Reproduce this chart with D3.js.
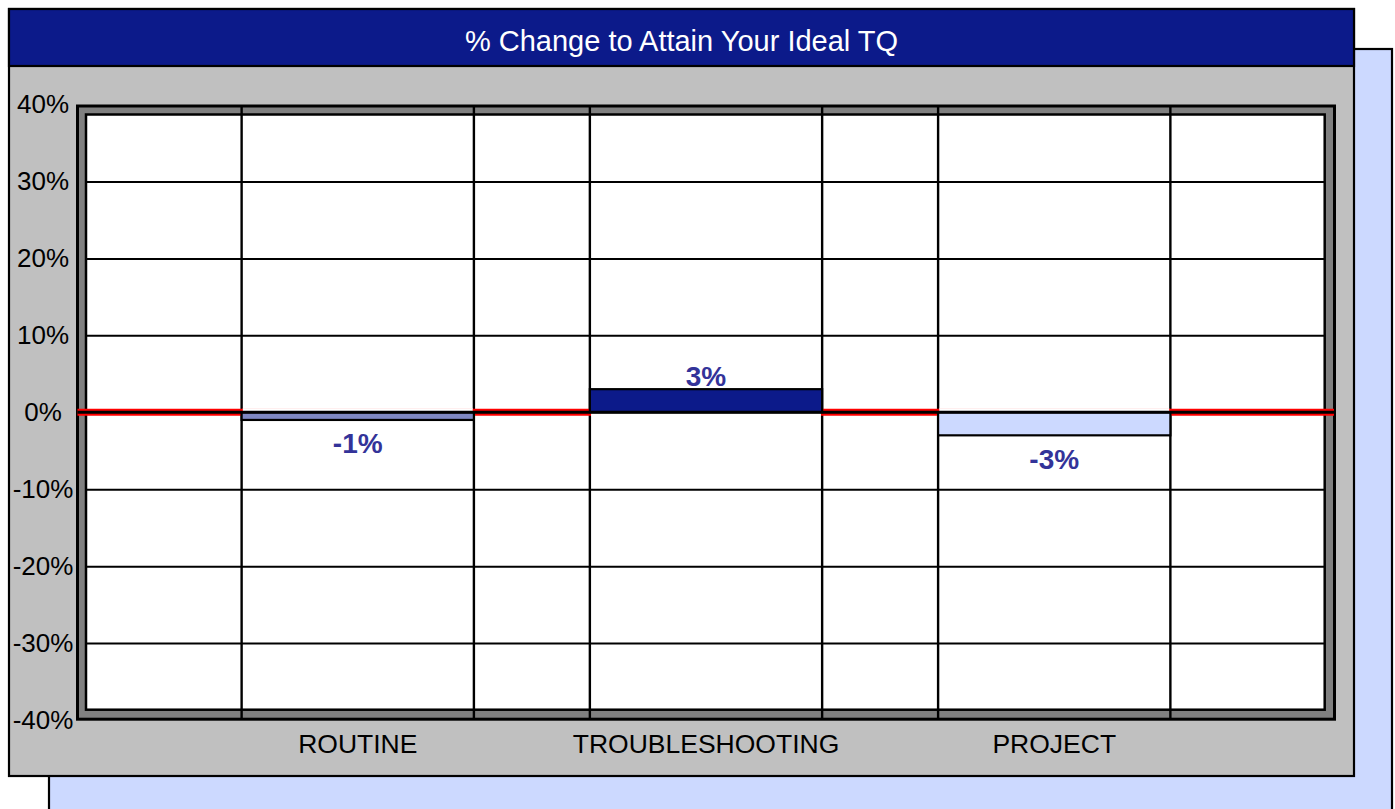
<!DOCTYPE html>
<html>
<head>
<meta charset="utf-8">
<script src="https://cdn.jsdelivr.net/npm/d3@7"></script>
<style>
  html, body { margin: 0; padding: 0; background: #ffffff; }
  svg { display: block; font-family: "Liberation Sans", Arial, sans-serif; }
</style>
</head>
<body>
<svg id="chart" width="1395" height="809"></svg>
<script>
// chart data
const title = "% Change to Attain Your Ideal TQ";
const categories = ["ROUTINE", "TROUBLESHOOTING", "PROJECT"];
const values = [-1, 3, -3];
const yTicks = [-40, -30, -20, -10, 0, 10, 20, 30, 40];

const barColors = ["#7f88c2", "#0c1a8a", "#ccd9ff"];

const svg = d3.select("#chart");

// frame geometry
const plot = { left: 77.5, right: 1334.5, top: 106, bottom: 719.2 };
const inner = { left: 86, right: 1324.7, top: 114.5, bottom: 709.7 };

const x = d3.scaleBand()
    .domain(categories)
    .range([76, 1336])
    .paddingInner(0.333)
    .paddingOuter(0.4756);

const y = d3.scaleLinear()
    .domain([-40, 40])
    .range([720, 104.5]);

const color = d3.scaleOrdinal().domain(categories).range(barColors);

// shadow panel
svg.append("rect")
    .attr("x", 49).attr("y", 49)
    .attr("width", 1343).attr("height", 790)
    .attr("fill", "#ccd9ff").attr("stroke", "#000").attr("stroke-width", 2.2);

// main panel
svg.append("rect")
    .attr("x", 9).attr("y", 9)
    .attr("width", 1345).attr("height", 767)
    .attr("fill", "#c0c0c0").attr("stroke", "#000").attr("stroke-width", 2.2);

// title band
svg.append("rect")
    .attr("x", 9).attr("y", 9)
    .attr("width", 1345).attr("height", 57)
    .attr("fill", "#0c1a8a").attr("stroke", "#000").attr("stroke-width", 2.2);

svg.append("text")
    .attr("x", 681.5).attr("y", 51)
    .attr("text-anchor", "middle")
    .attr("fill", "#ffffff")
    .attr("font-size", 29)
    .text(title);

// plot frame
svg.append("rect")
    .attr("x", plot.left).attr("y", plot.top)
    .attr("width", plot.right - plot.left).attr("height", plot.bottom - plot.top)
    .attr("fill", "#808080").attr("stroke", "#000").attr("stroke-width", 3);

svg.append("rect")
    .attr("x", inner.left).attr("y", inner.top)
    .attr("width", inner.right - inner.left).attr("height", inner.bottom - inner.top)
    .attr("fill", "#ffffff").attr("stroke", "#000").attr("stroke-width", 2.5);

// horizontal gridlines
svg.append("g")
    .attr("class", "grid-y")
    .attr("transform", `translate(${inner.left},0)`)
    .call(d3.axisRight(y)
        .tickValues(yTicks.filter(d => d > -40 && d < 40))
        .tickSize(inner.right - inner.left)
        .tickFormat(""))
    .call(g => g.select(".domain").remove())
    .call(g => g.selectAll("line").attr("stroke", "#000").attr("stroke-width", 2));

// vertical lines at the bar edges
const edges = [];
categories.forEach(c => { edges.push(x(c)); edges.push(x(c) + x.bandwidth()); });
svg.append("g")
    .attr("class", "grid-x")
    .selectAll("line")
    .data(edges)
    .join("line")
    .attr("x1", d => d).attr("x2", d => d)
    .attr("y1", plot.top).attr("y2", plot.bottom)
    .attr("stroke", "#000").attr("stroke-width", 2.4);

// red zero line (knocked out under the bars)
svg.append("line")
    .attr("x1", plot.left).attr("x2", plot.right - 0.5)
    .attr("y1", y(0)).attr("y2", y(0))
    .attr("stroke", "#ff0000").attr("stroke-width", 7);

svg.append("g")
    .selectAll("rect")
    .data(categories)
    .join("rect")
    .attr("x", d => x(d) + 1.2)
    .attr("width", x.bandwidth() - 2.4)
    .attr("y", y(0) - 4)
    .attr("height", 8)
    .attr("fill", "#ffffff");

// bars
svg.append("g")
    .attr("class", "bars")
    .selectAll("rect")
    .data(values)
    .join("rect")
    .attr("x", (d, i) => x(categories[i]))
    .attr("width", x.bandwidth())
    .attr("y", d => y(Math.max(0, d)))
    .attr("height", d => Math.abs(y(d) - y(0)))
    .attr("fill", (d, i) => color(categories[i]))
    .attr("stroke", "#000").attr("stroke-width", 2.2);

svg.append("line")
    .attr("x1", plot.left).attr("x2", plot.right - 0.5)
    .attr("y1", y(0)).attr("y2", y(0))
    .attr("stroke", "#000").attr("stroke-width", 3);

// data labels
svg.append("g")
    .attr("class", "labels")
    .selectAll("text")
    .data(values)
    .join("text")
    .attr("x", (d, i) => x(categories[i]) + x.bandwidth() / 2)
    .attr("y", d => d >= 0 ? y(d) - 3 : y(d) + 33.5)
    .attr("text-anchor", "middle")
    .attr("font-size", 28)
    .attr("font-weight", "bold")
    .attr("fill", "#333399")
    .text(d => d + "%");

// y axis labels
svg.append("g")
    .attr("class", "axis-y")
    .attr("transform", "translate(43,0)")
    .call(d3.axisLeft(y)
        .tickValues(yTicks)
        .tickSize(0)
        .tickPadding(0)
        .tickFormat(d => d + "%"))
    .call(g => g.select(".domain").remove())
    .call(g => g.selectAll("text")
        .attr("x", 0)
        .attr("dy", "0.32em")
        .attr("text-anchor", "middle")
        .attr("fill", "#000")
        .attr("font-size", 26)
        .attr("font-family", "'Liberation Sans', Arial, sans-serif"));

// x axis labels
svg.append("g")
    .attr("class", "axis-x")
    .attr("transform", "translate(0,753)")
    .call(d3.axisBottom(x).tickSize(0).tickPadding(0))
    .call(g => g.select(".domain").remove())
    .call(g => g.selectAll("text")
        .attr("y", 0)
        .attr("dy", 0)
        .attr("fill", "#000")
        .attr("font-size", 26.5)
        .attr("font-family", "'Liberation Sans', Arial, sans-serif"));
</script>
</body>
</html>
